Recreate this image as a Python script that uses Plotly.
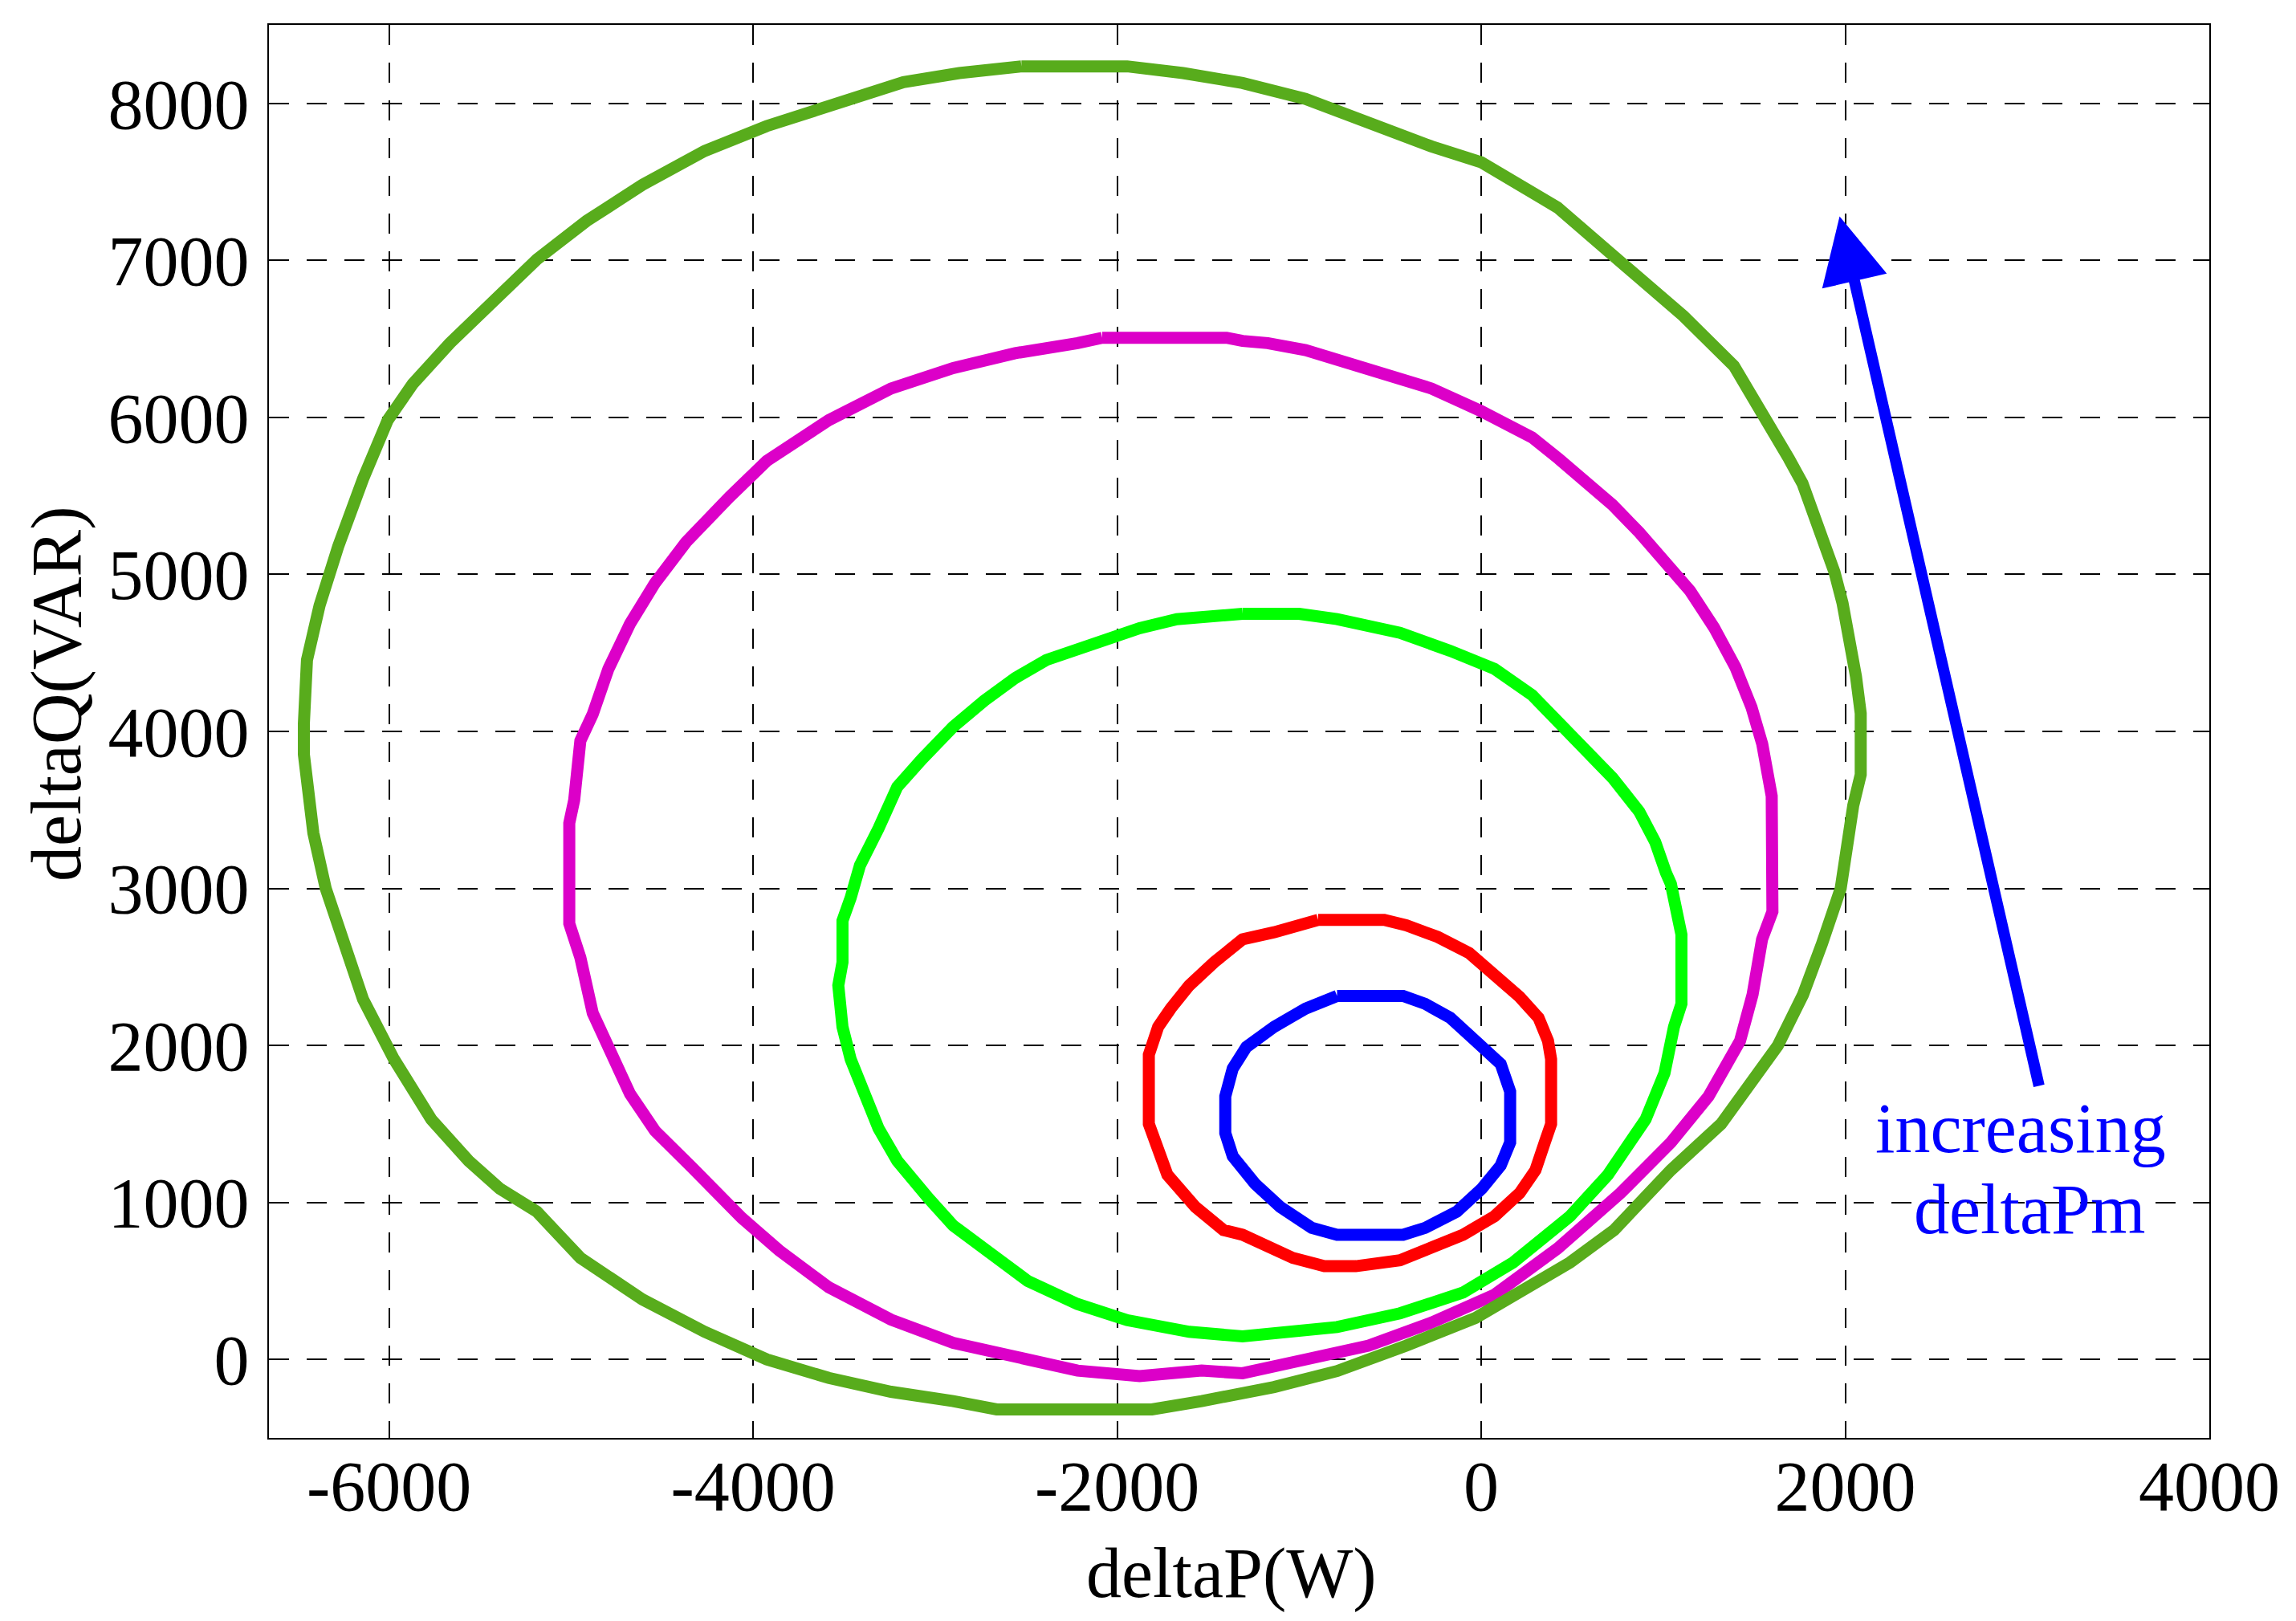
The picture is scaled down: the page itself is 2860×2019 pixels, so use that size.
import plotly.graph_objects as go

# ---------------- data ----------------
DG_x = [-2526, -1945, -1638, -1311, -965, -619, -273, 0, 419, 765, 1111, 1388, 1500, 1603, 1691,
        1765, 1824, 1882, 1941, 1985, 2029, 2059, 2085, 2085, 2044, 2015, 1975, 1872, 1768, 1630,
        1457, 1318, 1042, 730, 488, 211,
        -31, -412, -792, -1138, -1311, -1536, -1809, -2662, -2901, -3242, -3584, -3925, -4266,
        -4608, -4949, -5188, -5392, -5563, -5768, -5973, -6143, -6263, -6348, -6416, -6468,
        -6468, -6451, -6382, -6280, -6143, -6007, -5870, -5666, -5188, -4915, -4608, -4266,
        -3925, -3481, -3174, -2867, -2526]
DG_y = [8236, 8236, 8193, 8130, 8029, 7870, 7726, 7625, 7337, 6991, 6646, 6329, 6120, 5912, 5736,
        5580, 5404, 5209, 5014, 4818, 4584, 4350, 4115, 3725, 3529, 3295, 3000, 2647, 2323, 2000,
        1735, 1500, 1206, 824, 618, 441,
        265, 88, -74, -176, -221, -265, -318, -318, -265, -206, -118, 0, 176,
        382, 647, 941, 1088, 1265, 1529, 1912, 2294, 2676, 3000, 3353, 3853,
        4052, 4455, 4801, 5176, 5608, 5983, 6213, 6473, 7006, 7251, 7481, 7697,
        7856, 8029, 8135, 8193, 8236]

M_x = [-2082, -1399, -1311, -1173, -965, -619, -273, 0, 279, 426, 574, 721, 868, 1015, 1147,
       1279, 1397, 1485, 1544, 1596, 1603, 1600, 1543, 1491, 1422, 1249, 1042, 765, 419, 73, -273,
       -619, -965, -1311, -1536, -1877, -2218, -2560, -2901, -3242, -3584, -3857, -4061,
       -4334, -4539, -4676, -4795, -4881, -4949, -5010, -5010, -4983, -4949, -4881, -4795,
       -4676, -4539, -4369, -4130, -3925, -3584, -3242, -2901, -2560, -2218, -2082]
M_y = [6507, 6507, 6487, 6473, 6429, 6314, 6184, 6040, 5873, 5736, 5600, 5443, 5268, 5072, 4896,
       4662, 4408, 4154, 3920, 3588, 3006, 2853, 2676, 2324, 2029, 1676, 1382, 1059, 706, 412, 235,
       88, 0, -88, -71, -106, -71, 18, 106, 253, 459, 694, 900,
       1221, 1456, 1691, 1985, 2206, 2559, 2776, 3416, 3563, 3941, 4110, 4398,
       4686, 4945, 5205, 5493, 5723, 5983, 6184, 6314, 6409, 6473, 6507]

G_x = [-1311, -1000, -792, -446, -170, 73, 279, 426, 574, 721, 868, 956, 1015, 1042, 1100, 1100,
       1059, 1007, 903, 696, 488, 176, -100, -446, -792, -1104, -1311, -1604, -1945, -2218,
       -2491, -2696, -2901, -3038, -3208, -3311, -3396, -3464, -3509, -3532, -3509, -3509,
       -3464, -3413, -3311, -3208, -3072, -2901, -2730, -2560, -2389, -2150, -1877, -1672,
       -1433, -1311]
G_y = [4749, 4749, 4715, 4628, 4513, 4398, 4232, 4057, 3881, 3705, 3490, 3295, 3100, 3029, 2706, 2265,
       2118, 1824, 1529, 1176, 912, 618, 426, 294, 206, 176, 147, 176, 250, 353,
       500, 676, 853, 1029, 1265, 1471, 1706, 1912, 2118, 2382, 2529, 2794,
       2941, 3147, 3382, 3647, 3824, 4029, 4196, 4340, 4455, 4556, 4657, 4715,
       4744, 4749]

R_x = [-896, -533, -412, -239, -66, 73, 211, 315, 367, 384, 384, 349, 298, 211, 73, -100, -273,
       -446, -689, -862, -1035, -1208, -1311, -1416, -1570, -1724, -1775, -1826, -1826, -1775,
       -1706, -1604, -1468, -1311, -1138, -965, -896]
R_y = [2800, 2800, 2765, 2691, 2588, 2456, 2309, 2176, 2029, 1912, 1500, 1382, 1206, 1059, 912, 794, 706,
       632, 594, 594, 647, 735, 794, 824, 971, 1176, 1324, 1500, 1941, 2118,
       2235, 2382, 2529, 2676, 2721, 2779, 2800]

B_x = [-792, -429, -308, -170, -31, 107, 159, 159, 107, 3, -135, -308, -429, -792, -931, -1104,
       -1242, -1311, -1365, -1406, -1406, -1365, -1290, -1138, -965, -792]
B_y = [2315, 2315, 2265, 2176, 2029, 1882, 1706, 1382, 1235, 1088, 941, 838, 794, 794, 838, 971,
       1118, 1206, 1294, 1441, 1676, 1853, 1990, 2118, 2235, 2315]

X_TICKS = [-6000, -4000, -2000, 0, 2000, 4000]
X_TICK_TEXT = ["-6000", "-4000", "-2000", "0", "2000", "4000"]
Y_TICKS = [0, 1000, 2000, 3000, 4000, 5000, 6000, 7000, 8000]
Y_TICK_TEXT = ["0", "1000", "2000", "3000", "4000", "5000", "6000", "7000", "8000"]

ARROW_TAIL = (3066, 1735)
ARROW_TIP = (1969, 7280)
LABEL_LINES = ["increasing", "deltaPm"]
LABEL_POS = [(2965, 1473), (3010, 957)]

# ---------------- figure ----------------
FONT = "Liberation Serif"
fig = go.Figure()
series = [
    (R_x, R_y, "#FF0000"),
    (B_x, B_y, "#0000FF"),
    (G_x, G_y, "#00FF00"),
    (M_x, M_y, "#DC00C8"),
    (DG_x, DG_y, "#58AC1C"),
]
for xs, ys, col in series:
    fig.add_trace(go.Scatter(x=xs, y=ys, mode="lines",
                             line=dict(color=col, width=15), showlegend=False,
                             hoverinfo="skip"))

axis_common = dict(
    showgrid=True, gridcolor="black", gridwidth=2, griddash="25px,22px",
    zeroline=False, showline=True, linecolor="black", linewidth=2, mirror=True,
    ticks="", tickfont=dict(family=FONT, size=88, color="black"),
)
fig.update_xaxes(range=[-6660, 4000], tickvals=X_TICKS, ticktext=X_TICK_TEXT,
                 ticklabelstandoff=-18, **axis_common)
fig.update_yaxes(range=[-500, 8500], tickvals=Y_TICKS, ticktext=Y_TICK_TEXT,
                 ticklabelstandoff=5, **axis_common)

ann = []
# arrow
ann.append(dict(x=ARROW_TIP[0], y=ARROW_TIP[1], ax=ARROW_TAIL[0], ay=ARROW_TAIL[1],
                xref="x", yref="y", axref="x", ayref="y", text="", showarrow=True,
                arrowhead=2, arrowsize=1.18, arrowwidth=14, arrowcolor="#0000FF",
                standoff=0, startstandoff=0))
for (tx, ty), line in zip(LABEL_POS, LABEL_LINES):
    ann.append(dict(x=tx, y=ty, xref="x", yref="y", text=line, showarrow=False,
                    xanchor="center", yanchor="middle",
                    font=dict(family=FONT, size=88, color="#0000FF")))
# axis titles
ann.append(dict(x=0.496, y=-0.0955, xref="paper", yref="paper", text="deltaP(W)",
                showarrow=False, xanchor="center", yanchor="middle",
                font=dict(family=FONT, size=88, color="black")))
ann.append(dict(x=-0.1096, y=0.5267, xref="paper", yref="paper", text="deltaQ(VAR)",
                showarrow=False, xanchor="center", yanchor="middle", textangle=-90,
                font=dict(family=FONT, size=88, color="black")))

fig.update_layout(
    width=2860, height=2019, autosize=False,
    margin=dict(l=335, r=108, t=31, b=228, pad=0),
    paper_bgcolor="white", plot_bgcolor="white",
    showlegend=False, annotations=ann,
)

fig.write_html("out.html", config={"displayModeBar": False},
               post_script="document.body.style.margin='0';")
